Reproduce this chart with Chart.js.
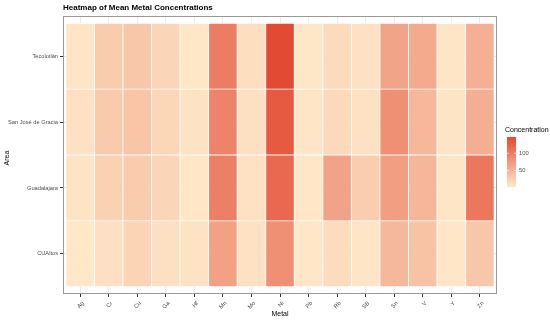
<!DOCTYPE html>
<html>
<head>
<meta charset="utf-8">
<script src="https://cdn.jsdelivr.net/npm/chart.js@4"></script>
<style>
  html, body { margin: 0; padding: 0; background: #fff; }
  #wrap { width: 550px; height: 322px; }
</style>
</head>
<body>
<div id="wrap"><canvas id="c" width="550" height="322"></canvas></div>
<script>
// areas listed top to bottom as in the picture
const areas = ["Tecolotlán", "San José de Gracia", "Guadalajara", "CUAltos"];
const metals = ["Ag", "Cr", "Cu", "Ga", "Hf", "Mn", "Mo", "Ni", "Pb", "Rb", "SB", "Sn", "V", "Y", "Zn"];

// mean concentration per metal, one array per area
const tecolotlan  = [5, 28, 32, 19, 3, 100, 10, 147, 3, 14, 8, 64, 59, 5, 53];
const sanJose     = [8, 29, 34, 18, 7, 95, 9, 132, 5, 16, 8, 84, 47, 6, 55];
const guadalajara = [6, 23, 28, 19, 4, 97, 8, 119, 4, 65, 27, 70, 48, 5, 106];
const cualtos     = [2, 9, 20, 9, 7, 67, 8, 83, 4, 13, 5, 46, 36, 4, 32];

const legendTicks = [50, 100];

const rows = [tecolotlan, sanJose, guadalajara, cualtos];
const allVals = rows.flat();
const vMin = Math.min(...allVals);
const vMax = Math.max(...allVals);

const LOW = [254, 232, 200];
const HIGH = [227, 74, 51];
function fillFor(v) {
  const t = (v - vMin) / (vMax - vMin);
  const c = LOW.map((l, i) => Math.round(l + (HIGH[i] - l) * t));
  return `rgb(${c[0]},${c[1]},${c[2]})`;
}

const FONT = "'Liberation Sans', Arial, sans-serif";
const GREY = "#4d4d4d";

// stacked bars, bottom row first
const datasets = rows.slice().reverse().map((vals, j) => ({
  label: areas[areas.length - 1 - j],
  data: metals.map((m, i) => ({ x: i, y: 1 })),
  backgroundColor: vals.map(fillFor),
  borderColor: "rgba(255,255,255,0.55)",
  borderWidth: 0.8,
  borderSkipped: false,
  barPercentage: 1,
  categoryPercentage: 1,
}));

/* ---------- extra drawing: panel, titles, colourbar ---------- */
const decor = {
  id: "decor",
  afterDraw(chart) {
    const ctx = chart.ctx;
    const a = chart.chartArea;
    ctx.save();
    ctx.strokeStyle = "#999";
    ctx.lineWidth = 1;
    ctx.strokeRect(a.left + 0.5, a.top + 0.5, a.right - a.left - 1, a.bottom - a.top - 1);

    ctx.fillStyle = "#000";
    ctx.font = `bold 8px ${FONT}`;
    ctx.textBaseline = "middle";
    ctx.textAlign = "left";
    ctx.fillText("Heatmap of Mean Metal Concentrations", 63, 8);

    ctx.font = `7px ${FONT}`;
    ctx.textAlign = "center";
    ctx.fillText("Metal", (a.left + a.right) / 2, 314);
    ctx.save();
    ctx.translate(7, (a.top + a.bottom) / 2 + 3);
    ctx.rotate(-Math.PI / 2);
    ctx.fillText("Area", 0, 0);
    ctx.restore();

    // colourbar legend
    const bx = 507, bw = 9, bTop = 137, bBot = 187;
    ctx.textAlign = "left";
    ctx.font = `7px ${FONT}`;
    ctx.fillText("Concentration", 505, 130);
    const g = ctx.createLinearGradient(0, bBot, 0, bTop);
    g.addColorStop(0, fillFor(vMin));
    g.addColorStop(1, fillFor(vMax));
    ctx.fillStyle = g;
    ctx.fillRect(bx, bTop, bw, bBot - bTop);
    ctx.font = `5.8px ${FONT}`;
    ctx.fillStyle = GREY;
    legendTicks.forEach((v) => {
      const y = bBot - (v - vMin) / (vMax - vMin) * (bBot - bTop);
      ctx.strokeStyle = "#fff";
      ctx.lineWidth = 0.6;
      ctx.beginPath();
      ctx.moveTo(bx, y); ctx.lineTo(bx + 2, y);
      ctx.moveTo(bx + bw - 2, y); ctx.lineTo(bx + bw, y);
      ctx.stroke();
      ctx.fillText(String(v), bx + bw + 3, y);
    });
    ctx.restore();
  },
};

new Chart(document.getElementById("c").getContext("2d"), {
  type: "bar",
  data: { datasets },
  options: {
    responsive: false,
    animation: false,
    devicePixelRatio: 1,
    layout: { padding: { top: 16, right: 53, left: 0, bottom: 0 } },
    plugins: { legend: { display: false }, tooltip: { enabled: false } },
    scales: {
      x: {
        type: "linear",
        stacked: true,
        offset: false,
        min: -0.6,
        max: metals.length - 0.4,
        afterBuildTicks: (s) => { s.ticks = metals.map((m, i) => ({ value: i })); },
        afterFit: (s) => { s.height = 28; },
        grid: { offset: false, color: "#ebebeb", tickColor: "#333", tickLength: 3, lineWidth: 1 },
        border: { display: false },
        ticks: {
          autoSkip: false,
          maxRotation: 45,
          minRotation: 45,
          padding: 3,
          labelOffset: 3,
          color: GREY,
          font: { family: FONT, size: 5.8 },
          callback: (v) => metals[v],
        },
      },
      y: {
        stacked: true,
        min: -0.11,
        max: areas.length + 0.11,
        afterBuildTicks: (s) => { s.ticks = areas.map((a, i) => ({ value: i + 0.5 })); },
        afterFit: (s) => { s.width = 63; },
        grid: { color: "#ebebeb", tickColor: "#333", tickLength: 3, lineWidth: 1 },
        border: { display: false },
        ticks: {
          padding: 2,
          color: GREY,
          font: { family: FONT, size: 5.7 },
          callback: (v) => areas[areas.length - 1 - Math.floor(v)],
        },
      },
    },
  },
  plugins: [decor],
});
</script>
</body>
</html>
